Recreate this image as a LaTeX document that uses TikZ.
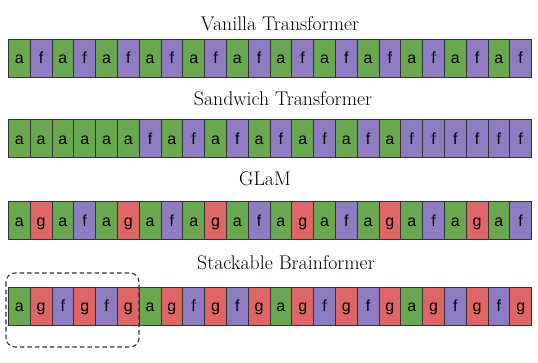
\documentclass[tikz,border=0pt]{standalone}
\usepackage{fontspec}
\newfontfamily\cellfont{Liberation Sans}
\definecolor{cola}{HTML}{6AA84F}
\definecolor{colf}{HTML}{8E7CC3}
\definecolor{colg}{HTML}{E06666}
\begin{document}
\begin{tikzpicture}[x=1pt,y=-1pt,
  cell/.style={draw=black!80, line width=0.8pt, minimum width=21.8pt, minimum height=38pt,
    inner sep=0pt, anchor=north west, text height=11pt, text depth=0pt,
    font=\cellfont\fontsize{16}{18}\selectfont},
  title/.style={anchor=base, inner sep=0pt, font=\fontsize{19.8}{22}\selectfont},
  group/.style={draw=black!80, line width=1.1pt, dash pattern=on 4.5pt off 3pt, rounded corners=9pt}]
\useasboundingbox (0,0) rectangle (538,362);
\node[title] (t1) at (280,30.7) {Vanilla Transformer};
\node[title] (t2) at (283,105.7) {Sandwich Transformer};
\node[title] (t3) at (265,185) {GLaM};
\node[title] (t4) at (286,269.3) {Stackable Brainformer};
\foreach \s [count=\i] in {a,f,a,f,a,f,a,f,a,f,a,f,a,f,a,f,a,f,a,f,a,f,a,f}
  \node[cell, fill=col\s] (ra\i) at ({8+(\i-1)*21.8},39) {\s};
\foreach \s [count=\i] in {a,a,a,a,a,a,f,a,f,a,f,a,f,a,f,a,f,a,f,f,f,f,f,f}
  \node[cell, fill=col\s] (rb\i) at ({8+(\i-1)*21.8},119.3) {\s};
\foreach \s [count=\i] in {a,g,a,f,a,g,a,f,a,g,a,f,a,g,a,f,a,g,a,f,a,g,a,f}
  \node[cell, fill=col\s] (rc\i) at ({8+(\i-1)*21.8},201.3) {\s};
\foreach \s [count=\i] in {a,g,f,g,f,g,a,g,f,g,f,g,a,g,f,g,f,g,a,g,f,g,f,g}
  \node[cell, fill=col\s] (rd\i) at ({8+(\i-1)*21.8},287) {\s};
\draw[group] (6,273) rectangle (139,347);
\end{tikzpicture}
\end{document}
